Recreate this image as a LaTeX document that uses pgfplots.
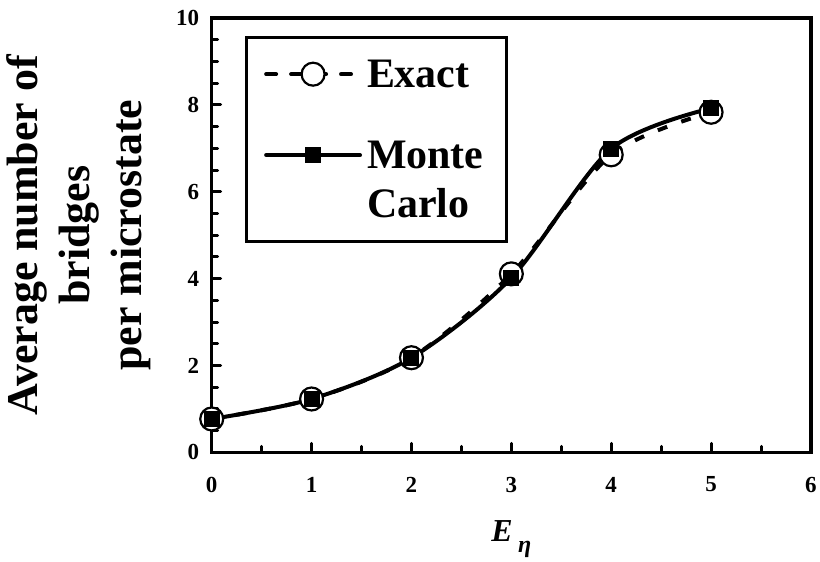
\documentclass[border=0pt]{standalone}
\usepackage{pgfplots}
\pgfplotsset{compat=1.18}
\usepackage{fontspec}
\setmainfont{Liberation Serif}
\newcommand{\labelfont}{\fontsize{44bp}{52bp}\selectfont\bfseries}
\newcommand{\legfont}{\fontsize{42bp}{50bp}\selectfont\bfseries}
\newcommand{\tickfont}{\fontsize{23bp}{27bp}\selectfont\bfseries}
\begin{document}
\begin{tikzpicture}
\begin{axis}[
  name=ax,
  width=600bp, height=435bp, scale only axis,
  xmin=0, xmax=6, ymin=0, ymax=10,
  xtick={0,...,6}, ytick={0,2,...,10},
  minor x tick num=1, minor y tick num=3,
  tick align=inside, tick pos=left,
  axis line style={line width=3.5bp},
  every tick/.append style={black, line width=3bp, line cap=round},
  major tick length=9bp, minor tick length=6bp,
  /pgf/number format/assume math mode=true,
  tick label style={font=\tickfont},
  xticklabel style={yshift=-21bp},
  yticklabel style={xshift=-9bp},
  ylabel={Average number of\\bridges\\per microstate},
  ylabel style={font=\labelfont, align=center, at={(axis description cs:-0.222,0.5)}, anchor=center},
  xlabel={\textit{E}\,\raisebox{-0.35em}{\fontsize{24bp}{24bp}\selectfont\textit{η}}},
  xlabel style={font=\fontsize{32bp}{36bp}\selectfont\bfseries, at={(axis description cs:0.5,-0.205)}, anchor=base},
  legend style={at={(axis description cs:0.055,0.958)}, anchor=north west,
    draw=black, line width=3bp, font=\legfont, row sep=42bp,
    inner xsep=18bp, inner ysep=17bp,
    nodes={align=left, inner sep=5bp}},
  legend cell align=left,
  legend image code/.code={\draw[mark repeat=2, mark phase=2, line cap=round, #1]
    plot coordinates {(0bp,0bp) (47bp,0bp) (94bp,0bp)};},
]
\addplot[black, line width=4bp, dash pattern=on 10bp off 15bp, smooth,
  mark=*, mark size=11.5bp, mark options={solid, fill=white, line width=2.2bp}]
  coordinates {(0,0.77) (1,1.23) (2,2.18) (3,4.11) (4,6.85) (5,7.83)};
\addlegendentry{Exact}
\addplot[black, line width=4bp, smooth,
  mark=square*, mark size=7.5bp, mark options={solid, fill=black, line width=0bp},
  legend image post style={yshift=25bp}]
  coordinates {(0,0.77) (1,1.23) (2,2.18) (3,4.02) (4,6.99) (5,7.92)};
\addlegendentry{Monte\\Carlo}
\end{axis}
\path ([shift={(-212bp,-99bp)}]ax.south west) rectangle ([shift={(8bp,18bp)}]ax.north east);
\end{tikzpicture}
\end{document}
